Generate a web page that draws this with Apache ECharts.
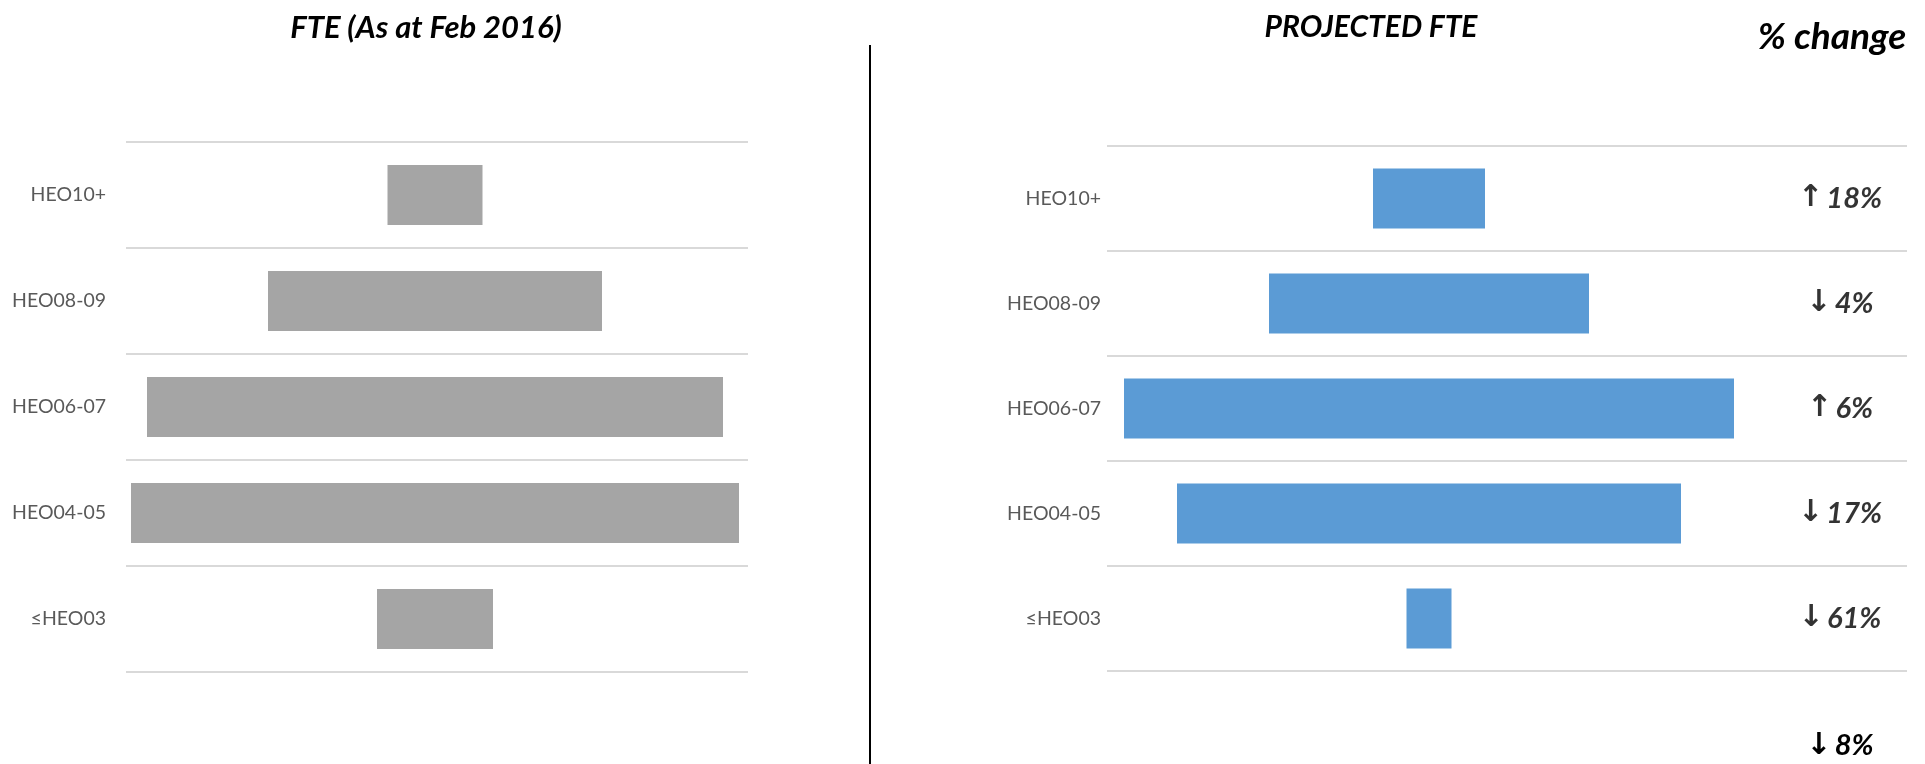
<!DOCTYPE html>
<html><head><meta charset="utf-8">
<script src="https://cdn.jsdelivr.net/npm/echarts@6/dist/echarts.min.js"></script>
<style>html,body{margin:0;padding:0;background:#fff}#c{width:1925px;height:764px}</style>
</head><body><div id="c"></div>
<script>
// ---- data ----
const categories = ['HEO10+', 'HEO08-09', 'HEO06-07', 'HEO04-05', '≤HEO03'];
const fteFeb2016 = [47.5, 167, 288, 304, 58];
const fteProjected = [56, 160, 305, 252, 22.5];
const changeLabels = ['↑ 18%', '↓ 4%', '↑ 6%', '↓ 17%', '↓ 61%'];
const totalChangeLabel = '↓ 8%';
const panelTitles = ['FTE (As at Feb 2016)', 'PROJECTED FTE', '% change'];

// ---- layout constants ----
const LEFT_MAX = 311, LEFT_CENTER = 154.5;
const RIGHT_MAX = 400, RIGHT_CENTER = 161, LABEL_X = 366.5;

const chart = echarts.init(document.getElementById('c'), null, {renderer: 'canvas'});

const rich = {
  a: {fontFamily: 'DejaVu Sans', fontWeight: 'bold', fontSize: 30, color: '#000'},
  p: {fontFamily: 'Lato', fontStyle: 'italic', fontWeight: 'bold', fontSize: 29, color: '#000'}
};
function fmtChange(s) {
  return '{a|' + s.slice(0, 1) + '} {p|' + s.slice(2) + '}';
}

const splitLine = {show: true, lineStyle: {color: '#d9d9d9', width: 2}};
const catAxis = (gridIndex, margin) => ({
  type: 'category', gridIndex, data: categories, inverse: true,
  axisLine: {show: false}, axisTick: {show: false},
  axisLabel: {color: '#595959', fontFamily: 'Lato', fontSize: 19.5, margin},
  splitLine
});

const titleText = (text, x, y, size) => ({
  type: 'text', x, y,
  style: {text, fontFamily: 'Lato', fontStyle: 'italic', fontWeight: 'bold', fontSize: size,
    fill: '#000', align: 'center', verticalAlign: 'middle'}
});

chart.setOption({
  animation: false,
  backgroundColor: '#fff',
  grid: [
    {left: 126, top: 142, width: 622, height: 530},
    {left: 1107, top: 146, width: 800, height: 525}
  ],
  xAxis: [
    {type: 'value', gridIndex: 0, min: 0, max: LEFT_MAX, show: false},
    {type: 'value', gridIndex: 1, min: 0, max: RIGHT_MAX, show: false}
  ],
  yAxis: [catAxis(0, 20), catAxis(1, 6)],
  series: [
    {type: 'bar', xAxisIndex: 0, yAxisIndex: 0, stack: 'L', barWidth: 60, silent: true,
      itemStyle: {color: 'transparent'}, data: fteFeb2016.map(v => LEFT_CENTER - v / 2)},
    {type: 'bar', xAxisIndex: 0, yAxisIndex: 0, stack: 'L', barWidth: 60,
      itemStyle: {color: '#a5a5a5'}, data: fteFeb2016},
    {type: 'bar', xAxisIndex: 1, yAxisIndex: 1, stack: 'R', barWidth: 60, silent: true,
      itemStyle: {color: 'transparent'}, data: fteProjected.map(v => RIGHT_CENTER - v / 2)},
    {type: 'bar', xAxisIndex: 1, yAxisIndex: 1, stack: 'R', barWidth: 60,
      itemStyle: {color: '#5b9bd5'}, data: fteProjected},
    {type: 'scatter', xAxisIndex: 1, yAxisIndex: 1, symbolSize: 0, silent: true,
      data: changeLabels.map((t, i) => ({value: [LABEL_X, categories[i]], name: t})),
      label: {show: true, position: 'inside', formatter: p => fmtChange(p.name), rich}}
  ],
  graphic: [
    titleText(panelTitles[0], 426, 28, 31),
    titleText(panelTitles[1], 1371, 27, 30),
    titleText(panelTitles[2], 1832, 37, 37),
    {type: 'line', shape: {x1: 870, y1: 45, x2: 870, y2: 764}, style: {stroke: '#000', lineWidth: 2}},
    {type: 'text', x: 1840, y: 746,
      style: {text: fmtChange(totalChangeLabel), rich, align: 'center', verticalAlign: 'middle'}}
  ]
});
</script></body></html>
